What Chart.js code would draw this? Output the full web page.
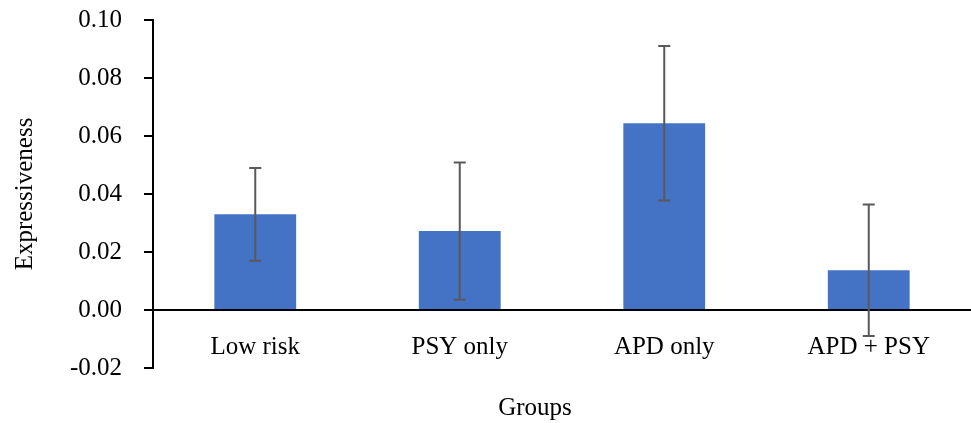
<!DOCTYPE html>
<html>
<head>
<meta charset="utf-8">
<script src="https://cdn.jsdelivr.net/npm/chart.js@4/dist/chart.umd.min.js"></script>
<style>
  html, body { margin: 0; padding: 0; background: #fff; }
  canvas { display: block; }
</style>
</head>
<body>
<canvas id="c" width="971" height="423"></canvas>
<script>
const categories = ['Low risk', 'PSY only', 'APD only', 'APD + PSY'];
const means = [0.033, 0.0272, 0.0644, 0.0137];
const errors = [0.016, 0.0237, 0.0266, 0.0227];
const yTicks = [-0.02, 0.00, 0.02, 0.04, 0.06, 0.08, 0.10];
const yTitle = 'Expressiveness';
const xTitle = 'Groups';

const FONT = '"Liberation Serif", "Times New Roman", serif';
const FSIZE = 25;

const errorBarPlugin = {
  id: 'errorBars',
  afterDatasetsDraw(chart) {
    const ctx = chart.ctx;
    const meta = chart.getDatasetMeta(0);
    const y = chart.scales.y;
    ctx.save();
    ctx.strokeStyle = '#595959';
    ctx.lineWidth = 2;
    meta.data.forEach((bar, i) => {
      const x = bar.x;
      const top = y.getPixelForValue(means[i] + errors[i]);
      const bot = y.getPixelForValue(means[i] - errors[i]);
      ctx.beginPath();
      ctx.moveTo(x, top); ctx.lineTo(x, bot);
      ctx.moveTo(x - 6, top); ctx.lineTo(x + 6, top);
      ctx.moveTo(x - 6, bot); ctx.lineTo(x + 6, bot);
      ctx.stroke();
    });
    ctx.restore();
  }
};

const xTitlePlugin = {
  id: 'xTitle',
  afterDraw(chart) {
    const ctx = chart.ctx;
    ctx.save();
    ctx.font = FSIZE + 'px ' + FONT;
    ctx.fillStyle = '#000';
    ctx.textAlign = 'center';
    ctx.textBaseline = 'middle';
    ctx.fillText(xTitle, 535, 408);
    ctx.restore();
  }
};

function zeroPad(scale) {
  scale.paddingTop = 0;
  scale.paddingBottom = 0;
}

function build() {
  new Chart(document.getElementById('c'), {
    type: 'bar',
    data: {
      labels: categories,
      datasets: [{
        data: means,
        backgroundColor: '#4472C4',
        borderWidth: 0,
        barPercentage: 0.4,
        categoryPercentage: 1.0
      }]
    },
    options: {
      responsive: false,
      animation: false,
      events: [],
      layout: { padding: { left: 0, right: 0, top: 20, bottom: 55 } },
      plugins: {
        legend: { display: false },
        tooltip: { enabled: false }
      },
      scales: {
        x: {
          position: { y: 0 },
          z: 1,
          afterFit(scale) { zeroPad(scale); scale.paddingLeft = 0; scale.paddingRight = 0; },
          grid: { display: true, drawOnChartArea: false, drawTicks: false },
          border: { display: true, color: '#000', width: 2 },
          ticks: {
            color: '#000',
            font: { family: FONT, size: FSIZE },
            padding: 22,
            maxRotation: 0
          }
        },
        y: {
          min: -0.02,
          max: 0.10,
          afterFit(scale) { scale.width = 153; zeroPad(scale); },
          afterBuildTicks(scale) { scale.ticks = yTicks.map(v => ({ value: v })); },
          grid: { display: true, drawOnChartArea: false, drawTicks: true, tickLength: 9, color: '#000', lineWidth: 2 },
          border: { display: true, color: '#000', width: 2 },
          ticks: {
            color: '#000',
            font: { family: FONT, size: FSIZE },
            padding: 22,
            callback: v => Number(v).toFixed(2)
          },
          title: {
            display: true,
            text: yTitle,
            color: '#000',
            font: { family: FONT, size: FSIZE },
            padding: { top: 10, bottom: 0 }
          }
        }
      }
    },
    plugins: [errorBarPlugin, xTitlePlugin]
  });
}

if (document.fonts && document.fonts.load) {
  document.fonts.load(FSIZE + 'px "Liberation Serif"').then(build, build);
} else {
  build();
}
</script>
</body>
</html>
